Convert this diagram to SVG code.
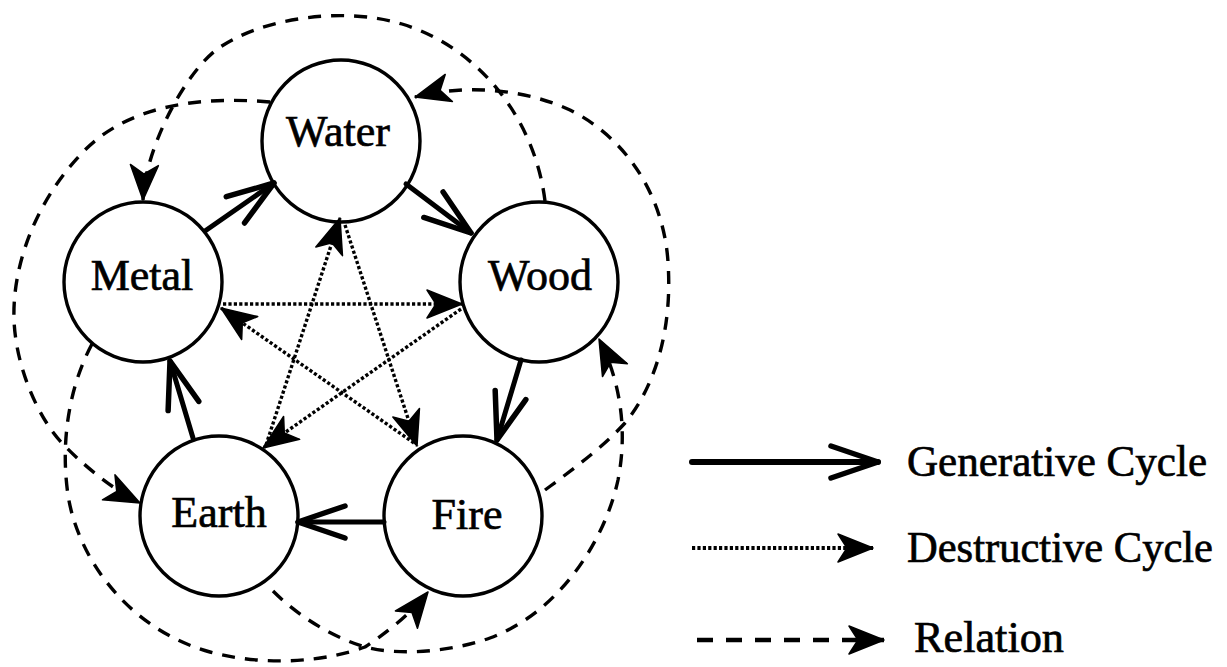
<svg xmlns="http://www.w3.org/2000/svg" width="1227" height="667" viewBox="0 0 1227 667">
  <style>
    .node ellipse { fill: #ffffff; stroke: #000000; stroke-width: 3.4; }
    .label { font-family: "Liberation Serif", "Times New Roman", serif; font-size: 44px; fill: #000000; stroke: #000000; stroke-width: 0.7; text-anchor: middle; }
    .legtext { font-family: "Liberation Serif", "Times New Roman", serif; font-size: 44px; fill: #000000; stroke: #000000; stroke-width: 0.7; }
    .gen { fill: none; stroke: #000000; stroke-width: 5; stroke-linecap: round; marker-end: url(#vhead); }
    .des { fill: none; stroke: #000000; stroke-width: 3.4; stroke-dasharray: 3.2 2.2; marker-end: url(#fhead); }
    .rel { fill: none; stroke: #000000; stroke-width: 3.4; stroke-dasharray: 13 10; marker-end: url(#fhead); }
  </style>
  <defs>
    <marker id="vhead" markerUnits="userSpaceOnUse" markerWidth="60" markerHeight="40" refX="0" refY="0" orient="auto" overflow="visible">
      <path d="M -47 -16 L 0 0 L -47 16" fill="none" stroke="#000000" stroke-width="5.5" stroke-linecap="round" stroke-linejoin="round"/>
    </marker>
    <marker id="fhead" markerUnits="userSpaceOnUse" markerWidth="40" markerHeight="30" refX="0" refY="0" orient="auto" overflow="visible">
      <path d="M 0 0 L -35 -14 L -26 0 L -35 14 Z" fill="#000000" stroke="#000000" stroke-width="1.5" stroke-linejoin="round"/>
    </marker>
  </defs>

  <g id="node-water" class="node">
    <ellipse cx="341" cy="141" rx="79" ry="81"/>
    <text class="label" x="338" y="146">Water</text>
  </g>
  <g id="node-metal" class="node">
    <ellipse cx="143" cy="282" rx="79" ry="80"/>
    <text class="label" x="142" y="290">Metal</text>
  </g>
  <g id="node-wood" class="node">
    <ellipse cx="539" cy="282" rx="79" ry="80"/>
    <text class="label" x="540" y="290">Wood</text>
  </g>
  <g id="node-earth" class="node">
    <ellipse cx="219" cy="516" rx="79" ry="80"/>
    <text class="label" x="219" y="527">Earth</text>
  </g>
  <g id="node-fire" class="node">
    <ellipse cx="463" cy="516" rx="79" ry="80"/>
    <text class="label" x="467" y="529">Fire</text>
  </g>

  <g id="connectors">
    <!-- Generative cycle -->
    <line class="gen" x1="205" y1="231" x2="274" y2="183"/>
    <line class="gen" x1="406" y1="184" x2="471" y2="233"/>
    <line class="gen" x1="521" y1="360" x2="497" y2="440"/>
    <line class="gen" x1="384" y1="522" x2="298" y2="522"/>
    <line class="gen" x1="193" y1="438" x2="170" y2="361"/>
    <!-- Destructive cycle -->
    <line class="des" x1="345" y1="225" x2="417" y2="446"/>
    <line class="des" x1="414" y1="443" x2="221" y2="308"/>
    <line class="des" x1="223" y1="304" x2="462" y2="304"/>
    <line class="des" x1="461" y1="309" x2="263" y2="448"/>
    <line class="des" x1="266" y1="445" x2="340" y2="218"/>
    <!-- Relations -->
    <path class="rel" d="M 270,102 C 200,96 130,105 85,150 C 40,195 12,260 14,320 C 16,370 40,420 62,443 C 80,462 110,488 140,503"/>
    <path class="rel" d="M 545,201 C 535,120 480,48 402,24 C 342,6 260,18 216,50 C 183,76 145,150 143,200"/>
    <path class="rel" d="M 545,490 C 575,468 605,445 625,423 C 660,380 672,320 668,262 C 664,200 630,140 570,110 C 520,87 460,85 415,97"/>
    <path class="rel" d="M 92,344 C 70,385 60,440 68,495 C 78,560 130,630 210,652 C 270,668 330,660 365,647 C 382,636 410,615 428,592"/>
    <path class="rel" d="M 273,591 C 300,618 335,638 365,647 C 400,656 450,652 490,638 C 560,612 605,540 618,480 C 628,430 620,380 599,339"/>
  </g>

  <g id="legend">
    <line class="gen" x1="692" y1="462" x2="878" y2="462" style="stroke-width:6"/>
    <text class="legtext" x="907" y="476" textLength="300" lengthAdjust="spacingAndGlyphs">Generative Cycle</text>
    <line class="des" x1="692" y1="548" x2="873" y2="548" style="stroke-width:3.8"/>
    <text class="legtext" x="907" y="562" textLength="306" lengthAdjust="spacingAndGlyphs">Destructive Cycle</text>
    <line class="rel" x1="697" y1="640" x2="884" y2="640" style="stroke-width:4.5;stroke-dasharray:16 13"/>
    <text class="legtext" x="914" y="652" textLength="150" lengthAdjust="spacingAndGlyphs">Relation</text>
  </g>
</svg>
